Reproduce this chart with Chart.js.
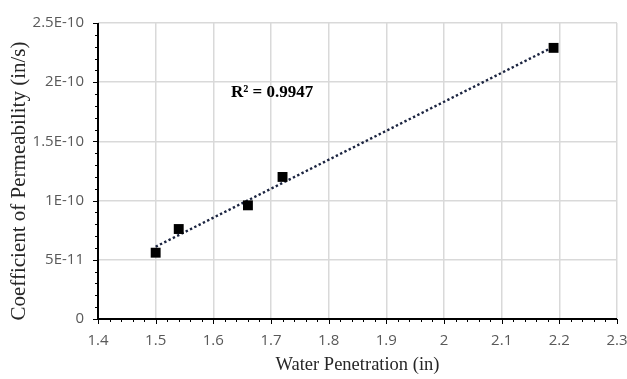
<!DOCTYPE html>
<html>
<head>
<meta charset="utf-8">
<script src="https://cdn.jsdelivr.net/npm/chart.js@4.4.0/dist/chart.umd.min.js"></script>
<style>
  html, body { margin: 0; padding: 0; background: #fff; }
  #wrap { width: 627px; height: 379px; }
</style>
</head>
<body>
<div id="wrap"><canvas id="chart1"></canvas></div>
<script>
// Veriler
const penetration = [1.5, 1.54, 1.66, 1.72, 2.19];
const permeability = [5.6e-11, 7.6e-11, 9.6e-11, 1.2e-10, 2.29e-10];
const xTicks = [1.4, 1.5, 1.6, 1.7, 1.8, 1.9, 2, 2.1, 2.2, 2.3];
const yTicks = [0, 5e-11, 1e-10, 1.5e-10, 2e-10, 2.5e-10];
const yLabels = ['0', '5E-11', '1E-10', '1.5E-10', '2E-10', '2.5E-10'];
const yTitle = 'Coefficient of Permeability (in/s)';
const r2Text = 'R² = 0.9947';

// Doğrusal trend çizgisi (en küçük kareler)
const n = penetration.length;
const mx = penetration.reduce((a, b) => a + b, 0) / n;
const my = permeability.reduce((a, b) => a + b, 0) / n;
let sxy = 0, sxx = 0;
for (let i = 0; i < n; i++) {
    sxy += (penetration[i] - mx) * (permeability[i] - my);
    sxx += (penetration[i] - mx) ** 2;
}
const slope = sxy / sxx;
const icpt = my - slope * mx;
const xMin = Math.min(...penetration), xMax = Math.max(...penetration);
const trend = [
    { x: xMin, y: icpt + slope * xMin },
    { x: xMax, y: icpt + slope * xMax }
];

// Ara çentikler, eksen başlığı ve R² etiketi
const extras = {
    id: 'extras',
    afterDraw(chart) {
        const ctx = chart.ctx;
        const xs = chart.scales.x, ys = chart.scales.y;
        ctx.save();
        ctx.strokeStyle = '#000';
        ctx.lineWidth = 1;
        ctx.beginPath();
        for (let i = 0; i <= 45; i++) {
            const v = 1.4 + i * 0.02;
            const px = Math.round(xs.getPixelForValue(v)) + 0.5;
            const major = i % 5 === 0;
            ctx.moveTo(px, ys.bottom);
            ctx.lineTo(px, ys.bottom + (major ? 5 : 3));
        }
        for (let i = 0; i <= 25; i++) {
            const v = i * 1e-11;
            const py = Math.round(ys.getPixelForValue(v)) + 0.5;
            const major = i % 5 === 0;
            ctx.moveTo(xs.left, py);
            ctx.lineTo(xs.left - (major ? 5 : 3), py);
        }
        ctx.stroke();
        ctx.lineWidth = 2;
        ctx.beginPath();
        ctx.moveTo(xs.left, ys.top);
        ctx.lineTo(xs.left, ys.bottom);
        ctx.lineTo(xs.right, ys.bottom);
        ctx.stroke();

        // Y ekseni başlığı
        ctx.save();
        ctx.translate(19, 181);
        ctx.rotate(-Math.PI / 2);
        ctx.fillStyle = '#262626';
        ctx.font = '21px "Liberation Serif"';
        ctx.textAlign = 'center';
        ctx.textBaseline = 'middle';
        ctx.fillText(yTitle, 0, 0);
        ctx.restore();

        ctx.fillStyle = '#000';
        ctx.font = 'bold 17px "Liberation Serif"';
        ctx.textBaseline = 'alphabetic';
        ctx.fillText(r2Text, 231, 97);
        ctx.restore();
    }
};

const ctx = document.getElementById('chart1').getContext('2d');
const myChart = new Chart(ctx, {
    type: 'scatter',
    data: {
        datasets: [{
            label: 'Veri',
            data: penetration.map((x, i) => ({ x: x, y: permeability[i] })),
            pointStyle: 'rect',
            pointRadius: 7,
            backgroundColor: '#000',
            borderColor: '#000',
            borderWidth: 0,
            order: 1
        }, {
            label: 'Trend',
            type: 'line',
            data: trend,
            borderColor: '#1b2440',
            borderWidth: 2.4,
            borderDash: [2.4, 2.4],
            pointRadius: 0,
            fill: false,
            order: 2
        }]
    },
    options: {
        responsive: true,
        maintainAspectRatio: false,
        animation: false,
        layout: { padding: { top: 18, right: 0, left: 0, bottom: 0 } },
        plugins: { legend: { display: false }, tooltip: { enabled: false } },
        scales: {
            x: {
                type: 'linear',
                min: 1.4, max: 2.3,
                afterBuildTicks: s => { s.ticks = xTicks.map(v => ({ value: v })); },
                afterFit: s => { s.height = 60; s.paddingRight = 10; s.paddingLeft = 0; },
                ticks: {
                    callback: v => String(Math.round(v * 10) / 10),
                    color: '#595959',
                    font: { family: 'Open Sans', size: 15 },
                    padding: 13,
                    maxRotation: 0
                },
                grid: { color: '#d9d9d9', lineWidth: 1.5, drawTicks: false },
                border: { display: false },
                title: {
                    display: true,
                    text: 'Water Penetration (in)',
                    color: '#262626',
                    font: { family: 'Liberation Serif', size: 18.5 },
                    padding: { top: 0, bottom: 3 }
                }
            },
            y: {
                type: 'linear',
                min: 0, max: 2.5e-10,
                afterBuildTicks: s => { s.ticks = yTicks.map(v => ({ value: v })); },
                afterFit: s => { s.width = 98; },
                ticks: {
                    callback: (v, i) => yLabels[i],
                    color: '#595959',
                    font: { family: 'Open Sans', size: 15 },
                    padding: 14
                },
                grid: { color: '#d9d9d9', lineWidth: 1.5, drawTicks: false },
                border: { display: false }
            }
        }
    },
    plugins: [extras]
});
</script>
</body>
</html>
